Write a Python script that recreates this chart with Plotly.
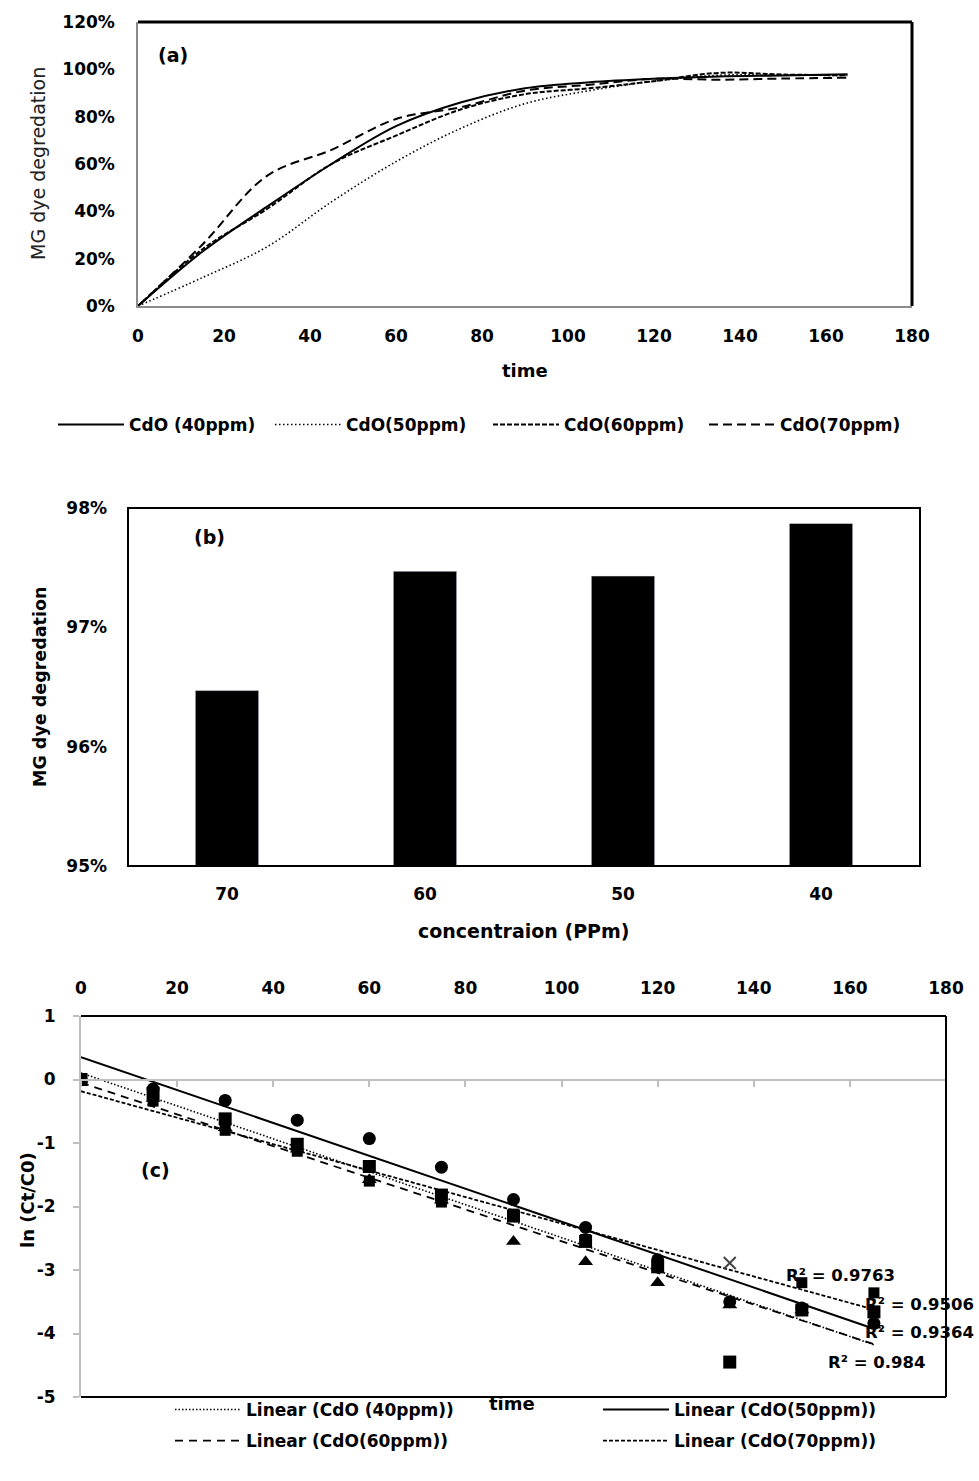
import numpy as np
import plotly.graph_objects as go

FONT = "DejaVu Sans"

# ---------------- Panel (a) data ----------------
time_a = [0, 15, 30, 45, 60, 75, 90, 105, 120, 135, 150, 165]
deg_40 = [0, 23, 42, 60, 76, 86, 92, 94.5, 96, 97, 97.4, 97.87]
deg_50 = [0, 12, 25, 44, 61, 75, 85.5, 91, 95, 97.5, 97.5, 97.44]
deg_60 = [0, 24, 41, 60, 72, 83, 89.5, 92, 95, 98.5, 97.8, 97.47]
deg_70 = [0, 26, 55, 66, 79, 84, 91, 93.5, 96, 95.6, 96.1, 96.47]
names_a = ["CdO (40ppm)", "CdO(50ppm)", "CdO(60ppm)", "CdO(70ppm)"]

# ---------------- Panel (b) data ----------------
conc_b = ["70", "60", "50", "40"]
final_deg = [96.47, 97.47, 97.43, 97.87]

# ---------------- Panel (c) data ----------------
time_c = [0, 15, 30, 45, 60, 75, 90, 105, 120, 135, 150, 165]
ln_40 = [0, -0.22, -0.62, -1.02, -1.37, -1.82, -2.15, -2.55, -2.95, -4.45, -3.63, -3.66]
ln_50 = [0, -0.15, -0.33, -0.64, -0.93, -1.38, -1.89, -2.33, -2.84, -3.5, -3.6, -3.84]
ln_60 = [0, -0.3, -0.76, -1.1, -1.58, -1.9, -2.55, -2.87, -3.2, -3.55, -3.63, -3.87]
ln_70 = [0, -0.34, -0.8, -1.13, -1.6, -1.93, -2.12, -2.52, -2.95, -2.89, -3.2, -3.36]
y_ticks_c = [1, 0, -1, -2, -3, -4, -5]
names_c = ["Linear (CdO (40ppm))", "Linear (CdO(50ppm))", "Linear (CdO(60ppm))", "Linear (CdO(70ppm))"]
r2_labels = ["R² = 0.9763", "R² = 0.9506", "R² = 0.9364", "R² = 0.984"]
r2_pos_t = [158, 174.5, 174.5, 165.5]
r2_pos_y = [-3.09, -3.55, -3.99, -4.45]

W, H = 979, 1481
def px(x):
    return x / W
def py(y):
    return 1 - y / H

fig = go.Figure()

# ---------- (a) lines ----------
styles_a = [
    dict(dash="solid", width=2),
    dict(dash="1.5px,2.5px", width=1.6),
    dict(dash="5px,2px", width=2),
    dict(dash="9px,5px", width=2),
]
legend_ids_a = ["legend", "legend2", "legend3", "legend4"]
for vals, nm, st, lg in zip([deg_40, deg_50, deg_60, deg_70], names_a, styles_a, legend_ids_a):
    fig.add_trace(go.Scatter(
        x=time_a, y=vals, name=nm, mode="lines",
        line=dict(color="black", shape="spline", smoothing=1.0, **st),
        xaxis="x", yaxis="y", legend=lg))

# ---------- (b) bars ----------
fig.add_trace(go.Bar(x=conc_b, y=final_deg, marker=dict(color="black"),
                     xaxis="x2", yaxis="y2", showlegend=False))

# ---------- (c) markers ----------
x_idx = 9  # the one 70 ppm point that shows its (x) marker
sq_t70 = [t for i, t in enumerate(time_c) if i != x_idx]
sq_v70 = [v for i, v in enumerate(ln_70) if i != x_idx]
fig.add_trace(go.Scatter(x=sq_t70, y=sq_v70, mode="markers", showlegend=False, opacity=1,
                         marker=dict(symbol="square", size=11, color="#000000", opacity=1,
                                     line=dict(width=0)),
                         xaxis="x4", yaxis="y3"))
fig.add_trace(go.Scatter(x=[time_c[x_idx]], y=[ln_70[x_idx]], mode="markers", showlegend=False,
                         marker=dict(symbol="x-thin-open", size=12, color="#444444",
                                     line=dict(color="#444444", width=2)),
                         xaxis="x4", yaxis="y3"))
fig.add_trace(go.Scatter(x=time_c, y=ln_60, mode="markers", showlegend=False,
                         marker=dict(symbol="triangle-up", size=13, color="#000000", line=dict(width=0)),
                         xaxis="x4", yaxis="y3"))
fig.add_trace(go.Scatter(x=time_c, y=ln_50, mode="markers", showlegend=False,
                         marker=dict(symbol="circle", size=13, color="#000000", line=dict(width=0)),
                         xaxis="x4", yaxis="y3"))
fig.add_trace(go.Scatter(x=time_c, y=ln_40, mode="markers", showlegend=False,
                         marker=dict(symbol="square", size=13, color="#000000", line=dict(width=0)),
                         xaxis="x4", yaxis="y3"))

# ---------- (c) trendlines ----------
styles_c = [
    dict(dash="1.5px,2px", width=1.6),
    dict(dash="solid", width=2),
    dict(dash="8px,6px", width=1.8),
    dict(dash="4px,2px", width=1.8),
]
legend_ids_c = ["legend5", "legend6", "legend7", "legend8"]
t_fit = np.array([min(time_c), max(time_c)], dtype=float)
for vals, nm, st, lg in zip([ln_40, ln_50, ln_60, ln_70], names_c, styles_c, legend_ids_c):
    slope, icpt = np.polyfit(time_c, vals, 1)
    fig.add_trace(go.Scatter(x=t_fit, y=slope * t_fit + icpt, mode="lines", name=nm,
                             line=dict(color="black", **st),
                             xaxis="x3", yaxis="y3", legend=lg))

def bold(s):
    return dict(family=FONT, size=s, color="black", weight="bold")

tickfont = bold(17)
GRAY = "#8c8c8c"

dom_a_x = [px(138), px(912)]
dom_a_y = [py(306), py(22)]
dom_b_x = [px(128), px(920)]
dom_b_y = [py(866), py(508)]
dom_c_x = [px(81), px(946)]
dom_c_y = [py(1397), py(1016)]

legfont = bold(17)
ITEMW = 66
# legend entries: (line-start x, center y) in page pixels
legend_pos = {
    "legend": (55, 425), "legend2": (272, 425), "legend3": (490, 425), "legend4": (706, 425),
    "legend5": (172, 1410), "legend6": (600, 1410), "legend7": (172, 1441), "legend8": (600, 1441),
}
legend_layout = {}
for key, (lx, ly) in legend_pos.items():
    legend_layout[key] = dict(x=px(lx - 2), y=py(ly), xanchor="left", yanchor="middle",
                              orientation="h", bgcolor="rgba(0,0,0,0)", borderwidth=0,
                              itemwidth=ITEMW, font=legfont)

fig.update_layout(
    width=W, height=H, margin=dict(l=0, r=0, t=0, b=0),
    paper_bgcolor="white", plot_bgcolor="white",
    font=dict(family=FONT, color="black"),
    bargap=0.68,
    xaxis=dict(domain=dom_a_x, anchor="y", range=[0, 180], dtick=20, tick0=0, automargin=False,
               showgrid=False, zeroline=False, showline=True, linecolor=GRAY, linewidth=1.5,
               ticks="", tickfont=tickfont, ticklabelstandoff=14),
    yaxis=dict(domain=dom_a_y, anchor="x", range=[0, 120], dtick=20, ticksuffix="%", automargin=False,
               showgrid=False, zeroline=False, showline=True, linecolor=GRAY, linewidth=1.5,
               ticks="", tickfont=tickfont, ticklabelstandoff=18),
    xaxis2=dict(domain=dom_b_x, anchor="y2", type="category", automargin=False,
                showgrid=False, zeroline=False, showline=False, ticks="",
                tickfont=tickfont, ticklabelstandoff=16),
    yaxis2=dict(domain=dom_b_y, anchor="x2", range=[95, 98], dtick=1, ticksuffix="%", automargin=False,
                showgrid=False, zeroline=False, showline=False, ticks="",
                tickfont=tickfont, ticklabelstandoff=20),
    xaxis3=dict(domain=dom_c_x, anchor="y3", side="top", range=[0, 180], dtick=20, tick0=0,
                automargin=False,
                showgrid=False, zeroline=False, showline=False, ticks="",
                tickfont=tickfont, ticklabelstandoff=18),
    xaxis4=dict(domain=dom_c_x, anchor="free", overlaying="x3", matches="x3", automargin=False,
                position=py(1080), side="bottom", range=[0, 180], dtick=20, tick0=0,
                showgrid=False, zeroline=False, showline=True, linecolor="#bfbfbf", linewidth=2,
                ticks="outside", ticklen=6, tickwidth=2, tickcolor="#bfbfbf",
                showticklabels=False),
    yaxis3=dict(domain=dom_c_y, anchor="x3", range=[-5, 1], automargin=False,
                tickmode="array", tickvals=y_ticks_c, ticktext=[str(v) for v in y_ticks_c],
                showgrid=False, zeroline=False, showline=True, linecolor="#bfbfbf", linewidth=2,
                ticks="outside", ticklen=6, tickwidth=2, tickcolor="#bfbfbf",
                tickfont=tickfont, ticklabelstandoff=14),
    **legend_layout,
)

shapes = [
    dict(type="line", xref="paper", yref="paper", x0=dom_a_x[0], x1=dom_a_x[1], y0=dom_a_y[1], y1=dom_a_y[1],
         line=dict(color="black", width=3)),
    dict(type="line", xref="paper", yref="paper", x0=dom_a_x[1], x1=dom_a_x[1], y0=dom_a_y[0], y1=dom_a_y[1],
         line=dict(color="black", width=3)),
    dict(type="rect", xref="paper", yref="paper", x0=dom_b_x[0], x1=dom_b_x[1], y0=dom_b_y[0], y1=dom_b_y[1],
         line=dict(color="black", width=2), layer="above"),
    dict(type="line", xref="paper", yref="paper", x0=dom_c_x[0], x1=dom_c_x[1], y0=dom_c_y[1], y1=dom_c_y[1],
         line=dict(color="black", width=2)),
    dict(type="line", xref="paper", yref="paper", x0=dom_c_x[1], x1=dom_c_x[1], y0=dom_c_y[0], y1=dom_c_y[1],
         line=dict(color="black", width=2)),
    dict(type="line", xref="paper", yref="paper", x0=dom_c_x[0], x1=dom_c_x[1], y0=dom_c_y[0], y1=dom_c_y[0],
         line=dict(color="black", width=2)),
]

def ann(text, x, y, font, angle=0):
    return dict(text=text, x=px(x), y=py(y), xref="paper", yref="paper", showarrow=False,
                xanchor="center", yanchor="middle", textangle=angle, font=font)

annotations = [
    ann("(a)", 173, 55, bold(19)),
    ann("(b)", 209, 537, bold(19)),
    ann("(c)", 155, 1170, bold(19)),
    ann("MG dye degredation", 38, 164, dict(family=FONT, size=19, color="#222222"), -90),
    ann("time", 525, 371, bold(18)),
    ann("MG dye degredation", 40, 687, bold(17.5), -90),
    ann("concentraion (PPm)", 524, 931, bold(19)),
    ann("ln (Ct/C0)", 27, 1200, bold(18), -90),
    ann("time", 512, 1403, bold(18)),
]
for lab, tx, ty in zip(r2_labels, r2_pos_t, r2_pos_y):
    annotations.append(dict(text=lab, x=tx, y=ty, xref="x3", yref="y3", showarrow=False,
                            xanchor="center", yanchor="middle", font=bold(16.5)))

fig.update_layout(shapes=shapes, annotations=annotations)
fig.write_html("out.html")
